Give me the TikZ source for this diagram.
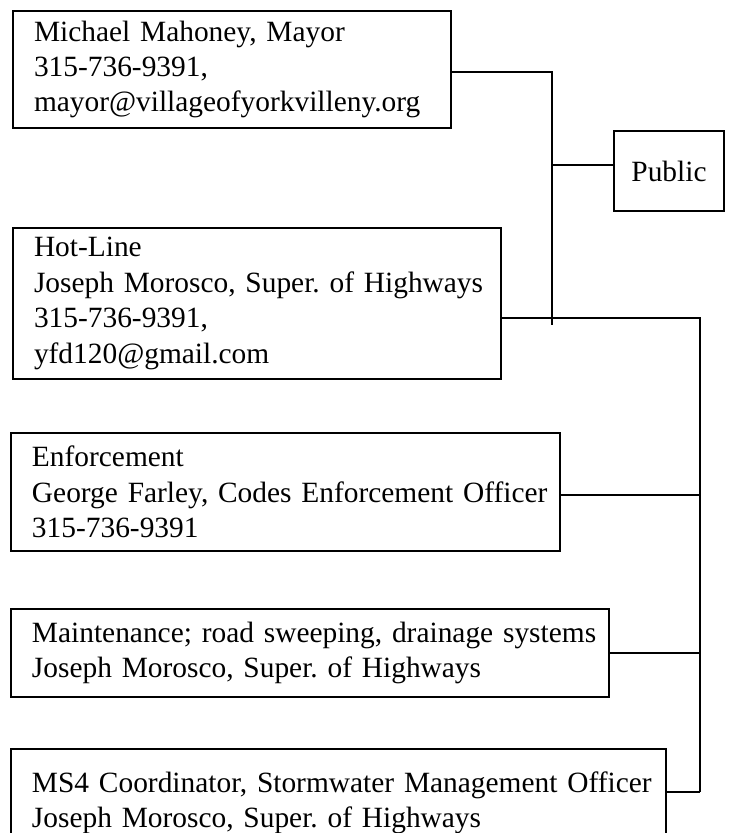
\documentclass[tikz,border=0pt]{standalone}
\usepackage{fontspec}
\setmainfont{Liberation Serif}
\frenchspacing
\begin{document}
\begin{tikzpicture}[x=0.5pt,y=-0.5pt,
  box/.style={draw, line width=1pt, anchor=north west, align=left, inner xsep=10.5pt, inner ysep=0pt,
    font=\fontsize{14.7}{17.7}\selectfont},
  link/.style={line width=1pt}]
\useasboundingbox (0,0) rectangle (754,833);
\node[box, text width=198pt, minimum height=58.5pt] (b1) at (12,10)
  {\mbox{Michael Mahoney, Mayor}\\\mbox{315-736-9391,}\\\mbox{mayor@villageofyorkvilleny.org}};
\node[box, text width=223pt, minimum height=75.5pt] (b2) at (12,227)
  {\mbox{Hot-Line}\\\mbox{Joseph Morosco, Super. of Highways}\\\mbox{315-736-9391,}\\\mbox{yfd120@gmail.com}};
\node[box, text width=253.5pt, minimum height=59pt] (b3) at (10,432)
  {\mbox{Enforcement}\\\mbox{George Farley, Codes Enforcement Officer}\\\mbox{315-736-9391}};
\node[box, text width=278pt, minimum height=44pt] (b4) at (10,608)
  {\mbox{Maintenance; road sweeping, drainage systems}\\\mbox{Joseph Morosco, Super. of Highways}};
\node[box, text width=306.5pt, minimum height=54pt] (b5) at (10,748)
  {\mbox{MS4 Coordinator, Stormwater Management Officer}\\\mbox{Joseph Morosco, Super. of Highways}};
\node[draw, line width=1pt, anchor=north west, minimum width=55pt, minimum height=40pt, inner sep=0pt,
  font=\fontsize{14.7}{17.7}\selectfont] (pub) at (613,130) {Public};
% junctions
\coordinate (j1) at (552,72);
\coordinate (j1b) at (552,325);
\coordinate (jp) at (552,165);
\coordinate (j2) at (700,318);
\coordinate (j3) at (700,495);
\coordinate (j4) at (700,653);
\coordinate (j5) at (700,792);
\draw[link] (b1.east |- j1) -- (j1) -- (j1b);
\draw[link] (jp) -- (pub.west |- jp);
\draw[link] (b2.east |- j2) -- (j2) -- (j5);
\draw[link] (b3.east |- j3) -- (j3);
\draw[link] (b4.east |- j4) -- (j4);
\draw[link] (b5.east |- j5) -- (j5);
\end{tikzpicture}
\end{document}
